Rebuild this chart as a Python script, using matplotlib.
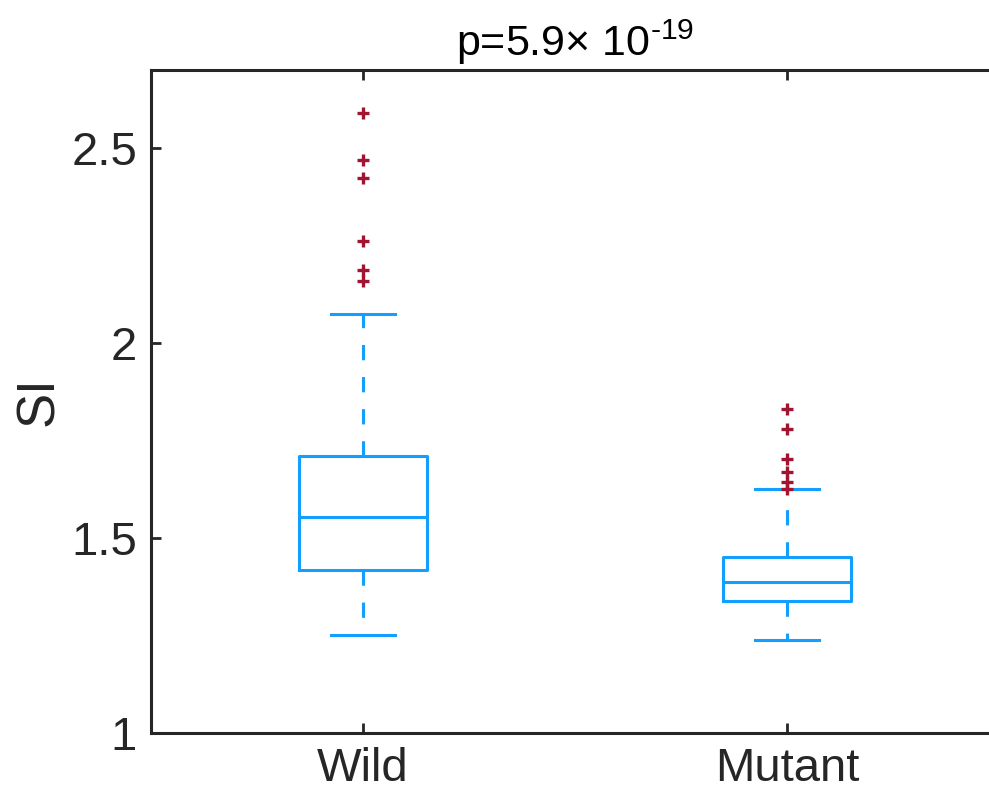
import matplotlib
matplotlib.use('Agg')
import matplotlib.pyplot as plt

# valores
grupos = ['Wild', 'Mutant']
q1 = [1.418, 1.339]
mediana = [1.554, 1.388]
q3 = [1.710, 1.452]
bigote_inf = [1.251, 1.238]
bigote_sup = [2.074, 1.626]
atipicos = [
    [2.589, 2.469, 2.423, 2.261, 2.187, 2.159],
    [1.831, 1.779, 1.703, 1.670, 1.644, 1.626],
]
titulo = r'p=5.9$\times$ 10$^{\text{-19}}$'

plt.rcParams.update({
    'font.family': ['Liberation Sans', 'DejaVu Sans'],
    'mathtext.fontset': 'custom',
    'mathtext.rm': 'Liberation Sans',
    'mathtext.it': 'Liberation Sans:italic',
    'mathtext.bf': 'Liberation Sans:bold',
})

AZUL = '#139FFF'
ROJO = '#A2142F'
EJE = '#262626'

fig = plt.figure(figsize=(9.89, 7.99), dpi=100)
ax = fig.add_axes([151 / 989, 1 - 733 / 799, (999 - 151) / 989, (733 - 70) / 799])

stats = []
for i, g in enumerate(grupos):
    stats.append({
        'label': g, 'q1': q1[i], 'med': mediana[i], 'q3': q3[i],
        'whislo': bigote_inf[i], 'whishi': bigote_sup[i], 'fliers': atipicos[i],
    })

lw = 2.2
ax.bxp(stats, positions=[1, 2], widths=0.3, capwidths=0.15,
       boxprops=dict(color=AZUL, linewidth=lw),
       medianprops=dict(color=AZUL, linewidth=lw),
       whiskerprops=dict(color=AZUL, linewidth=lw, linestyle=(0, (5, 5.5))),
       capprops=dict(color=AZUL, linewidth=lw),
       flierprops=dict(marker='+', markeredgecolor=ROJO, markersize=9,
                       markeredgewidth=2.4, linestyle='none'))

ax.set_xlim(0.5, 2.5)
ax.set_ylim(1, 2.7)
ax.set_yticks([1, 1.5, 2, 2.5])
ax.set_yticklabels(['1', '1.5', '2', '2.5'])
ax.set_xticks([1, 2])
ax.set_xticklabels(grupos)

for s in ax.spines.values():
    s.set_color(EJE)
    s.set_linewidth(2.2)
ax.tick_params(direction='in', length=7, width=2.0, colors=EJE,
               labelsize=34, top=True, right=True, pad=10)
for lab in ax.get_xticklabels() + ax.get_yticklabels():
    lab.set_color(EJE)

ax.set_ylabel('SI', fontsize=38, color=EJE, labelpad=5)
ax.set_title(titulo, fontsize=31, color='black', pad=10)

fig.savefig('out.png', dpi=100)
